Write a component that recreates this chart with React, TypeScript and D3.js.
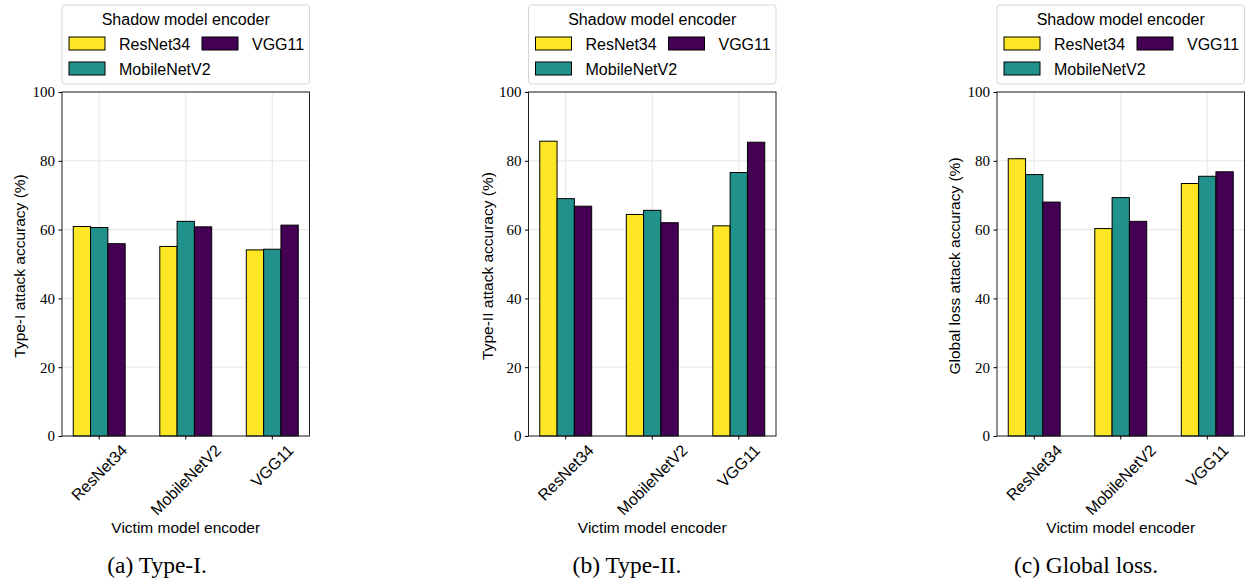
import React, { useEffect, useRef } from "react";
import * as d3 from "d3";

const victims = ["ResNet34", "MobileNetV2", "VGG11"];
const shadows = ["ResNet34", "MobileNetV2", "VGG11"];
const colors = ["#fde725", "#21918c", "#440154"];
const yTicks = [0, 20, 40, 60, 80, 100];

// rows = victim encoder, columns = shadow encoder
const typeI = [
  [60.9, 60.6, 55.9],
  [55.1, 62.4, 60.8],
  [54.1, 54.3, 61.3],
];
const typeII = [
  [85.7, 69.0, 66.8],
  [64.4, 65.6, 62.0],
  [61.1, 76.6, 85.4],
];
const globalLoss = [
  [80.6, 76.0, 68.0],
  [60.3, 69.3, 62.4],
  [73.4, 75.5, 76.8],
];

const panels = [
  { values: typeI, ylabel: "Type-I attack accuracy (%)", caption: "(a) Type-I.", left: 62, ylabelX: 20, captionX: 157 },
  { values: typeII, ylabel: "Type-II attack accuracy (%)", caption: "(b) Type-II.", left: 528.5, ylabelX: 488, captionX: 627 },
  { values: globalLoss, ylabel: "Global loss attack accuracy (%)", caption: "(c) Global loss.", left: 997, ylabelX: 955, captionX: 1086 },
];

const sans = "'Liberation Sans', Arial, sans-serif";
const serif = "'Liberation Serif', 'Times New Roman', serif";

const App = () => {
  const svgRef = useRef(null);
  const width = 1249;
  const height = 588;

  useEffect(() => {
    document.body.style.margin = "0";
    const svg = d3.select(svgRef.current);
    svg.selectAll("*").remove();

    const axW = 247.5;
    const top = 92;
    const bottom = 436;
    const barW = 0.2;

    panels.forEach((p) => {
      const g = svg.append("g");
      const x = d3.scaleLinear().domain([-0.43, 2.43]).range([p.left, p.left + axW]);
      const y = d3.scaleLinear().domain([0, 100]).range([bottom, top]);

      // grid
      g.append("g")
        .selectAll("line.gy")
        .data(yTicks)
        .join("line")
        .attr("x1", p.left)
        .attr("x2", p.left + axW)
        .attr("y1", (d) => y(d))
        .attr("y2", (d) => y(d))
        .attr("stroke", "#e3e3e3")
        .attr("stroke-width", 0.9);
      g.append("g")
        .selectAll("line.gx")
        .data(victims)
        .join("line")
        .attr("x1", (d, i) => x(i))
        .attr("x2", (d, i) => x(i))
        .attr("y1", top)
        .attr("y2", bottom)
        .attr("stroke", "#e3e3e3")
        .attr("stroke-width", 0.9);

      // bars
      p.values.forEach((row, i) => {
        g.append("g")
          .selectAll("rect")
          .data(row)
          .join("rect")
          .attr("x", (v, j) => x(i + (j - 1) * barW - barW / 2))
          .attr("width", x(barW) - x(0))
          .attr("y", (v) => y(v))
          .attr("height", (v) => y(0) - y(v))
          .attr("fill", (v, j) => colors[j])
          .attr("stroke", "#000")
          .attr("stroke-width", 1);
      });

      // frame
      g.append("rect")
        .attr("x", p.left)
        .attr("y", top)
        .attr("width", axW)
        .attr("height", bottom - top)
        .attr("fill", "none")
        .attr("stroke", "#222")
        .attr("stroke-width", 1);

      // y axis
      const ya = g.append("g").attr("transform", `translate(${p.left},0)`)
        .call(d3.axisLeft(y).tickValues(yTicks).tickSize(3.5).tickPadding(3.5));
      ya.select(".domain").remove();
      ya.selectAll("text").style("font-family", serif).style("font-size", "15px").attr("fill", "#000");

      // x ticks
      g.append("g")
        .selectAll("line")
        .data(victims)
        .join("line")
        .attr("x1", (d, i) => x(i))
        .attr("x2", (d, i) => x(i))
        .attr("y1", bottom)
        .attr("y2", bottom + 3.5)
        .attr("stroke", "#000");

      victims.forEach((name, i) => {
        const t = g.append("text")
          .text(name)
          .attr("text-anchor", "middle")
          .attr("dominant-baseline", "central")
          .style("font-family", sans)
          .style("font-size", "16px");
        const w = (t.node() as SVGTextElement).getComputedTextLength();
        const h = 13;
        const cy = bottom + 7 + (w + h) / (2 * Math.SQRT2);
        t.attr("transform", `translate(${x(i)},${cy}) rotate(-45)`);
      });

      g.append("text")
        .text("Victim model encoder")
        .attr("x", p.left + axW / 2)
        .attr("y", 533)
        .attr("text-anchor", "middle")
        .style("font-family", sans)
        .style("font-size", "15.5px");

      g.append("text")
        .text(p.ylabel)
        .attr("transform", `translate(${p.ylabelX + 5},${(top + bottom) / 2 + 2}) rotate(-90)`)
        .attr("text-anchor", "middle")
        .style("font-family", sans)
        .style("font-size", "15.5px");

      g.append("text")
        .text(p.caption)
        .attr("x", p.captionX)
        .attr("y", 573)
        .attr("text-anchor", "middle")
        .style("font-family", serif)
        .style("font-size", "23.5px");

      // legend
      const lg = g.append("g").attr("transform", `translate(${p.left},5)`);
      lg.append("rect")
        .attr("width", axW)
        .attr("height", 79)
        .attr("rx", 3)
        .attr("fill", "#fff")
        .attr("fill-opacity", 0.8)
        .attr("stroke", "#d5d5d5");
      lg.append("text")
        .text("Shadow model encoder")
        .attr("x", axW / 2)
        .attr("y", 20)
        .attr("text-anchor", "middle")
        .style("font-family", sans)
        .style("font-size", "16px");
      const pos = [
        [7, 32],
        [7, 57],
        [140, 32],
      ];
      shadows.forEach((s, j) => {
        const [px, py] = pos[j];
        lg.append("rect")
          .attr("x", px)
          .attr("y", py)
          .attr("width", 36)
          .attr("height", 13)
          .attr("fill", colors[j])
          .attr("stroke", "#000")
          .attr("stroke-width", 1);
        lg.append("text")
          .text(s)
          .attr("x", px + 50)
          .attr("y", py + 13)
          .style("font-family", sans)
          .style("font-size", "16px");
      });
    });
  }, []);

  return <svg width={width} height={height} viewBox={`0 0 ${width} ${height}`} ref={svgRef} style={{ display: "block", background: "#fff" }}></svg>;
};

export default App;
